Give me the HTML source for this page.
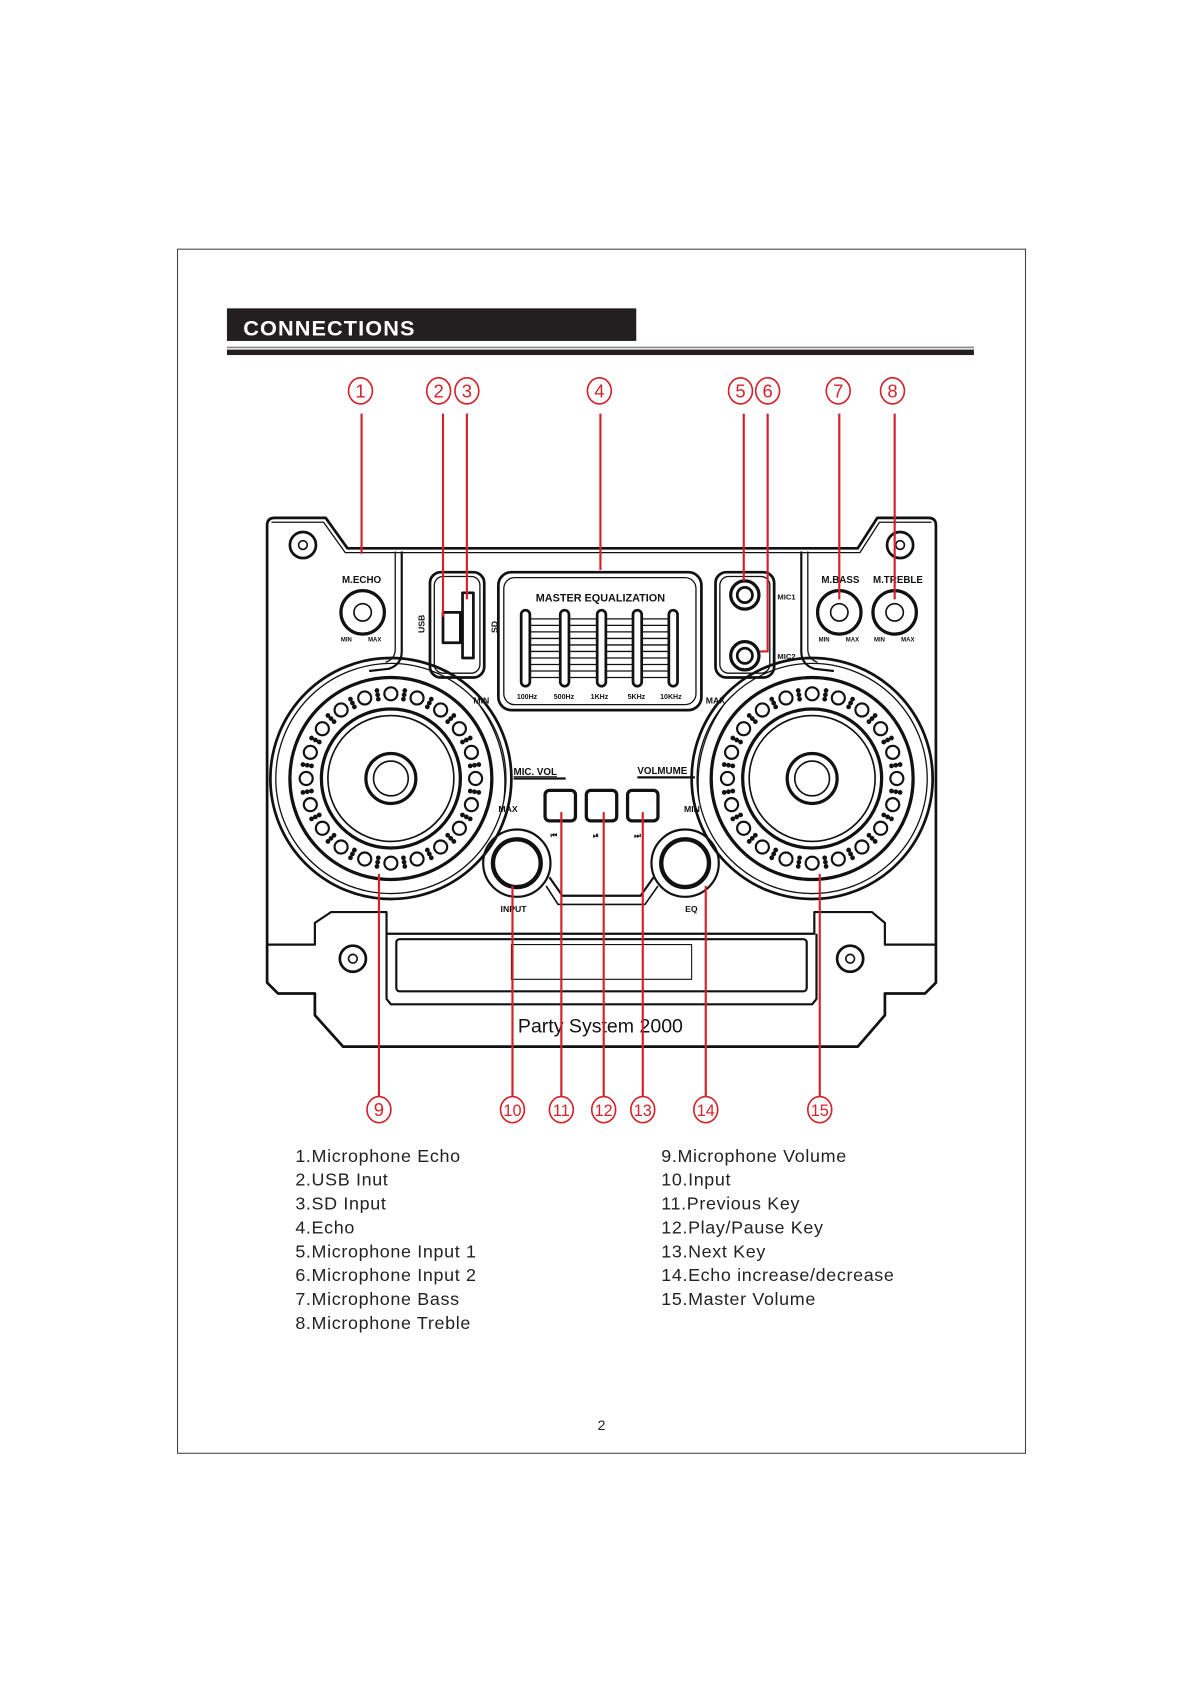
<!DOCTYPE html>
<html><head><meta charset="utf-8"><style>
html,body{margin:0;padding:0;background:#fff;}
svg{display:block;}
text{font-family:"Liberation Sans",Arial,sans-serif;}
</style></head><body>
<svg id="s" width="1190" height="1684" viewBox="0 0 1096 1551" xmlns="http://www.w3.org/2000/svg">
<rect x="163.5" y="229.5" width="781" height="1109" fill="none" stroke="#444" stroke-width="1"/>
<rect x="209" y="284" width="377" height="30" fill="#231f20"/>
<text x="224" y="309" font-size="20" font-weight="bold" fill="#fff" letter-spacing="1">CONNECTIONS</text>
<line x1="209" y1="320" x2="897" y2="320" stroke="#888" stroke-width="1.5"/>
<rect x="209" y="322" width="688" height="5" fill="#231f20"/>

<g fill="none" stroke="#111" stroke-width="2.5" stroke-linejoin="round">
<!-- body outline -->
<path d="M253 477 L300 477 L320 505 L790 505 L808 477 L855 477 Q862 477 862 484 L862 905 L852 915 L815 915 L815 935 L790 964 L316 964 L290 935 L290 915 L256 915 L246 905 L246 484 Q246 477 253 477 Z"/>
<path d="M250 481 L298 481 L318 509 L792 509 L810 481 L858 481" stroke-width="1.2"/>
<!-- inner panel -->
<path d="M370 508 L370 600 Q370 612 358 616 L340 618" stroke-width="2"/>
<path d="M364 508 L364 598 Q364 607 355 610" stroke-width="1.2"/>
<path d="M738 508 L738 600 Q738 612 750 616 L768 618" stroke-width="2"/>
<path d="M744 508 L744 598 Q744 607 753 610" stroke-width="1.2"/>
<!-- USB/SD -->
<rect x="396" y="527" width="50" height="97" rx="10"/>
<rect x="400" y="531" width="42" height="89" rx="8" stroke-width="1.2"/>
<rect x="408" y="564" width="16" height="28" stroke-width="2.5"/>
<rect x="426" y="546" width="10" height="60" stroke-width="2.5"/>
<!-- EQ -->
<rect x="459" y="527" width="187" height="127" rx="12"/>
<rect x="464" y="532" width="177" height="117" rx="10" stroke-width="1.2"/>
<!-- mic box -->
<rect x="659" y="527" width="54" height="97" rx="10"/>
<rect x="663" y="531" width="46" height="89" rx="8" stroke-width="1.2"/>
<circle cx="686" cy="548" r="13" stroke-width="3"/><circle cx="686" cy="548" r="7"/>
<circle cx="686" cy="604" r="13" stroke-width="3"/><circle cx="686" cy="604" r="7"/>
<!-- knobs -->
<circle cx="334" cy="564" r="20" stroke-width="3"/><circle cx="334" cy="564" r="8" stroke-width="1.5"/>
<circle cx="773" cy="564" r="20" stroke-width="3"/><circle cx="773" cy="564" r="8" stroke-width="1.5"/>
<circle cx="824" cy="564" r="20" stroke-width="3"/><circle cx="824" cy="564" r="8" stroke-width="1.5"/>
<!-- screws -->
<circle cx="279" cy="502" r="12" stroke-width="2.5"/><circle cx="279" cy="502" r="4" stroke-width="1.5"/>
<circle cx="829" cy="502" r="12" stroke-width="2.5"/><circle cx="829" cy="502" r="4" stroke-width="1.5"/>
<circle cx="325" cy="883" r="12" stroke-width="2.5"/><circle cx="325" cy="883" r="4" stroke-width="1.5"/>
<circle cx="783" cy="883" r="12" stroke-width="2.5"/><circle cx="783" cy="883" r="4" stroke-width="1.5"/>
<!-- speakers -->
<circle cx="360" cy="717" r="111"/><circle cx="360" cy="717" r="106" stroke-width="1.2"/>
<circle cx="360" cy="717" r="93" stroke-width="3"/><circle cx="360" cy="717" r="64" stroke-width="3"/><circle cx="360" cy="717" r="58" stroke-width="1.5"/>
<circle cx="360" cy="717" r="23" stroke-width="3"/><circle cx="360" cy="717" r="16" stroke-width="1.5"/>
<circle cx="748" cy="717" r="111"/><circle cx="748" cy="717" r="106" stroke-width="1.2"/>
<circle cx="748" cy="717" r="93" stroke-width="3"/><circle cx="748" cy="717" r="64" stroke-width="3"/><circle cx="748" cy="717" r="58" stroke-width="1.5"/>
<circle cx="748" cy="717" r="23" stroke-width="3"/><circle cx="748" cy="717" r="16" stroke-width="1.5"/>
<g id="dots" stroke-width="2"></g>
<!-- arcs -->
<path d="M442 650 Q470 690 464 738" stroke-width="1.2"/>
<path d="M666 650 Q638 690 644 738" stroke-width="1.2"/>
<!-- buttons -->
<rect x="502" y="728" width="28" height="28" rx="4" stroke-width="3"/>
<rect x="540" y="728" width="28" height="28" rx="4" stroke-width="3"/>
<rect x="578" y="728" width="28" height="28" rx="4" stroke-width="3"/>
<!-- input/eq knobs -->
<circle cx="476" cy="795" r="31" stroke-width="2"/><circle cx="476" cy="795" r="22" stroke-width="4"/>
<circle cx="631" cy="795" r="31" stroke-width="2"/><circle cx="631" cy="795" r="22" stroke-width="4"/>
<path d="M506 808 L518 825 L590 825 L602 808" stroke-width="2"/>
<path d="M503 816 L514 833 L594 833 L606 816" stroke-width="1.5"/>
<!-- lower -->
<path d="M246 870 L290 870 L290 850 L305 840 L356 840 L356 860 L750 860 L750 840 L803 840 L815 850 L815 870 L862 870" stroke-width="2"/>
<path d="M356 860 L356 920 L360 925 L748 925 L752 920 L752 860" stroke-width="2"/>
<rect x="365" y="865" width="378" height="48" rx="3" stroke-width="2"/>
<rect x="471" y="870" width="166" height="32" stroke-width="1"/>
</g>
<!-- texts -->
<g font-weight="bold" fill="#111">
<text x="333" y="537" font-size="9" text-anchor="middle">M.ECHO</text>
<text x="774" y="537" font-size="9" text-anchor="middle">M.BASS</text>
<text x="827" y="537" font-size="9" text-anchor="middle">M.TREBLE</text>
<text font-size="5.5" x="314" y="591">MIN</text><text font-size="5.5" x="339" y="591">MAX</text>
<text font-size="5.5" x="754" y="591">MIN</text><text font-size="5.5" x="779" y="591">MAX</text>
<text font-size="5.5" x="805" y="591">MIN</text><text font-size="5.5" x="830" y="591">MAX</text>
<text font-size="8" transform="translate(391,583) rotate(-90)">USB</text>
<text font-size="8" transform="translate(458,583) rotate(-90)">SD</text>
<text x="553" y="554" font-size="10" text-anchor="middle">MASTER  EQUALIZATION</text>
<text font-size="6.5" x="476" y="644">100Hz</text><text font-size="6.5" x="510" y="644">500Hz</text><text font-size="6.5" x="544" y="644">1KHz</text><text font-size="6.5" x="578" y="644">5KHz</text><text font-size="6.5" x="608" y="644">10KHz</text>
<text font-size="7" x="716" y="552">MIC1</text><text font-size="7" x="716" y="607">MIC2</text>
<text font-size="8" x="436" y="648">MIN</text><text font-size="8" x="650" y="648">MAX</text>
<text font-size="8" x="459" y="748">MAX</text><text font-size="8" x="630" y="748">MIN</text>
<text font-size="9" x="473" y="714" text-decoration="underline">MIC. VOL</text>
<text font-size="9" x="587" y="713">VOLMUME</text>
<text font-size="8" x="461" y="840">INPUT</text><text font-size="8" x="631" y="840">EQ</text>
<text font-size="7" x="507" y="772">⏮</text><text font-size="7" x="546" y="772">⏯</text><text font-size="7" x="584" y="772">⏭</text>
</g>
<line x1="473" y1="717" x2="521" y2="717" stroke="#111" stroke-width="2"/>
<line x1="587" y1="716" x2="640" y2="716" stroke="#111" stroke-width="2"/>
<g id="eq" stroke="#111" fill="none"></g>
<text x="553" y="951" font-size="18" text-anchor="middle" fill="#111">Party System 2000</text>

<!-- red callouts -->
<g stroke="#d2232a" stroke-width="2" fill="none">
<line x1="333" y1="381" x2="333" y2="510"/>
<line x1="408" y1="381" x2="408" y2="568"/>
<line x1="430" y1="381" x2="430" y2="552"/>
<line x1="553" y1="381" x2="553" y2="525"/>
<line x1="685" y1="381" x2="685" y2="535"/>
<path d="M707 381 L707 600 L700 600"/>
<line x1="773" y1="381" x2="773" y2="552"/>
<line x1="824" y1="381" x2="824" y2="552"/>
<line x1="349" y1="805" x2="349" y2="1010"/>
<line x1="472" y1="816" x2="472" y2="1010"/>
<line x1="517" y1="748" x2="517" y2="1010"/>
<line x1="556" y1="748" x2="556" y2="1010"/>
<line x1="592" y1="748" x2="592" y2="1010"/>
<line x1="650" y1="816" x2="650" y2="1010"/>
<line x1="755" y1="805" x2="755" y2="1010"/>
</g>
<g id="nums" fill="none" stroke="#d2232a" stroke-width="1.5"></g>
<g id="numt" fill="#d2232a" font-size="17" text-anchor="middle"></g>

<g fill="#222" font-size="16.5" letter-spacing="0.6">
<text x="272" y="1070">1.Microphone Echo</text>
<text x="272" y="1092">2.USB Inut</text>
<text x="272" y="1114">3.SD Input</text>
<text x="272" y="1136">4.Echo</text>
<text x="272" y="1158">5.Microphone Input 1</text>
<text x="272" y="1180">6.Microphone Input 2</text>
<text x="272" y="1202">7.Microphone Bass</text>
<text x="272" y="1224">8.Microphone Treble</text>
<text x="609" y="1070">9.Microphone Volume</text>
<text x="609" y="1092">10.Input</text>
<text x="609" y="1114">11.Previous Key</text>
<text x="609" y="1136">12.Play/Pause Key</text>
<text x="609" y="1158">13.Next Key</text>
<text x="609" y="1180">14.Echo increase/decrease</text>
<text x="609" y="1202">15.Master Volume</text>
</g>
<text x="554" y="1317" font-size="13" text-anchor="middle" fill="#222">2</text>
</svg>
<script>
var NS="http://www.w3.org/2000/svg";
function el(p,t,a,txt){var e=document.createElementNS(NS,t);for(var k in a)e.setAttribute(k,a[k]);if(txt)e.textContent=txt;document.getElementById(p).appendChild(e);}
[[360,717],[748,717]].forEach(function(c){
 for(var i=0;i<20;i++){var a=i*Math.PI*2/20;
  el("dots","circle",{cx:c[0]+78*Math.cos(a),cy:c[1]+78*Math.sin(a),r:6});
  var b=a+Math.PI/20;
  for(var j=-1;j<=1;j++){el("dots","circle",{cx:c[0]+(78+j*4)*Math.cos(b),cy:c[1]+(78+j*4)*Math.sin(b),r:1.2,fill:"#111"});}
 }});
[484,520,554,587,620].forEach(function(x){el("eq","rect",{x:x-4,y:562,width:8,height:70,rx:4,"stroke-width":2.5});});
for(var y=570;y<628;y+=6){[[489,515],[525,549],[559,582],[592,615]].forEach(function(s){el("eq","line",{x1:s[0],y1:y,x2:s[1],y2:y,"stroke-width":1.2});});}
var n=[[1,332,360],[2,404,360],[3,430,360],[4,552,360],[5,682,360],[6,707,360],[7,772,360],[8,822,360],[9,349,1022],[10,472,1022],[11,517,1022],[12,556,1022],[13,592,1022],[14,650,1022],[15,755,1022]];
n.forEach(function(v){el("nums","ellipse",{cx:v[1],cy:v[2],rx:11,ry:12});el("numt","text",{x:v[1],y:v[2]+6,"font-size":v[0]>9?15:17},""+v[0]);});
</script>
</body></html>
